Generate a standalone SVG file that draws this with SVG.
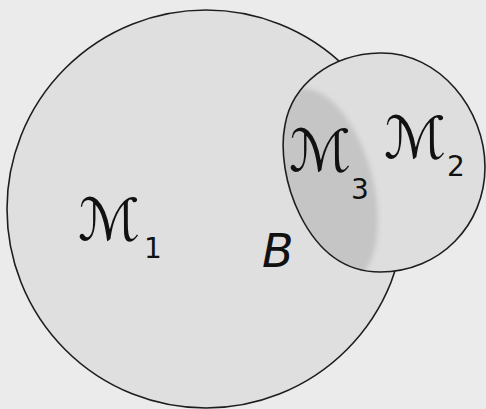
<svg xmlns="http://www.w3.org/2000/svg" width="486" height="409" viewBox="0 0 486 409">
<style>
.edge{stroke:#1e1e1e;stroke-width:1.6;}
.lab{font-family:"DejaVu Sans",sans-serif;fill:#111;font-size:58px;}
.sub{font-family:"DejaVu Sans",sans-serif;fill:#111;font-size:28px;}
</style>
<defs>
<clipPath id="clipM2"><path d="M 380,53 C 440,52 485,110 485,167 C 485,225 440,272 380,272 C 340,272 315,245 300,215 C 285,185 280,150 285,125 C 292,85 330,54 380,53 Z"/></clipPath>
<filter id="soft" x="-30%" y="-30%" width="160%" height="160%"><feGaussianBlur stdDeviation="2.5"/></filter>
</defs>
<rect width="486" height="409" fill="#ebebeb"/>
<g id="M1">
<circle cx="206" cy="209" r="199" fill="#dfdfdf" class="edge"/>
<text class="lab" x="78" y="240">ℳ</text>
<text class="sub" x="144" y="258">1</text>
</g>
<g id="M2">
<path d="M 380,53 C 440,52 485,110 485,167 C 485,225 440,272 380,272 C 340,272 315,245 300,215 C 285,185 280,150 285,125 C 292,85 330,54 380,53 Z" fill="#dedede"/>
<g clip-path="url(#clipM2)"><ellipse cx="323" cy="186" rx="50" ry="100" transform="rotate(-15 323 186)" fill="#c5c5c5" filter="url(#soft)"/></g>
<path d="M 380,53 C 440,52 485,110 485,167 C 485,225 440,272 380,272 C 340,272 315,245 300,215 C 285,185 280,150 285,125 C 292,85 330,54 380,53 Z" fill="none" class="edge"/>
<text class="lab" x="384" y="158">ℳ</text>
<text class="sub" x="447" y="176">2</text>
</g>
<g id="M3">
<text class="lab" x="289" y="171">ℳ</text>
<text class="sub" x="351" y="199">3</text>
</g>
<g id="B">
<text class="lab" x="262" y="267" font-size="46" font-style="italic" style="font-size:46px">B</text>
</g>
<g id="connectors"/>
</svg>
